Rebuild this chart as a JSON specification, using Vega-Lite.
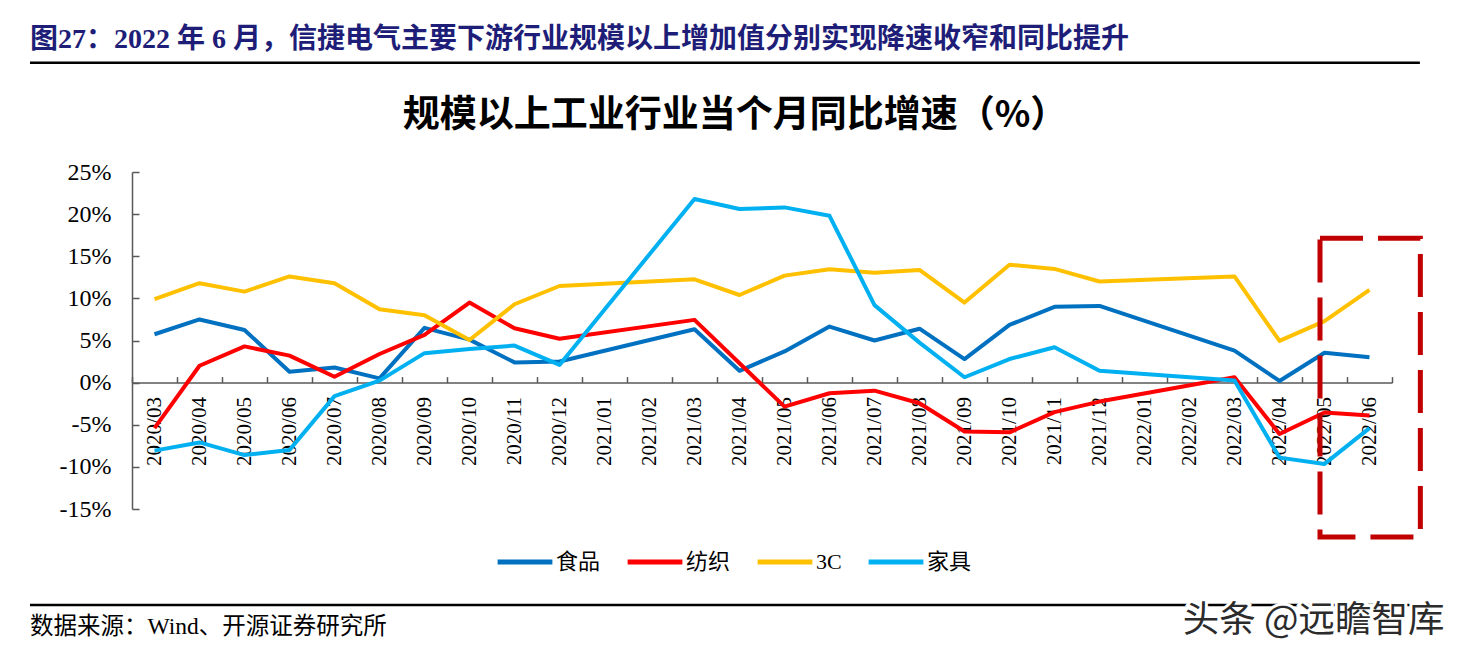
{
  "$schema": "https://vega.github.io/schema/vega-lite/v6.json",
  "width": 1260,
  "height": 337,
  "autosize": {"type": "none"},
  "padding": {"left": 132, "top": 172, "right": 80, "bottom": 148},
  "background": "white",
  "config": {"view": {"stroke": null}, "font": "Liberation Serif"},
  "data": {
    "values": [
      {"month": "2020/03", "series": "食品", "value": 5.74},
      {"month": "2020/04", "series": "食品", "value": 7.5},
      {"month": "2020/05", "series": "食品", "value": 6.25},
      {"month": "2020/06", "series": "食品", "value": 1.3},
      {"month": "2020/07", "series": "食品", "value": 1.8},
      {"month": "2020/08", "series": "食品", "value": 0.5},
      {"month": "2020/09", "series": "食品", "value": 6.5},
      {"month": "2020/10", "series": "食品", "value": 5.1},
      {"month": "2020/11", "series": "食品", "value": 2.4},
      {"month": "2020/12", "series": "食品", "value": 2.5},
      {"month": "2021/03", "series": "食品", "value": 6.33},
      {"month": "2021/04", "series": "食品", "value": 1.4},
      {"month": "2021/05", "series": "食品", "value": 3.7},
      {"month": "2021/06", "series": "食品", "value": 6.65},
      {"month": "2021/07", "series": "食品", "value": 5.0},
      {"month": "2021/08", "series": "食品", "value": 6.4},
      {"month": "2021/09", "series": "食品", "value": 2.8},
      {"month": "2021/10", "series": "食品", "value": 6.85},
      {"month": "2021/11", "series": "食品", "value": 9.0},
      {"month": "2021/12", "series": "食品", "value": 9.1},
      {"month": "2022/03", "series": "食品", "value": 3.8},
      {"month": "2022/04", "series": "食品", "value": 0.2},
      {"month": "2022/05", "series": "食品", "value": 3.55},
      {"month": "2022/06", "series": "食品", "value": 3.0},

      {"month": "2020/03", "series": "纺织", "value": -5.4},
      {"month": "2020/04", "series": "纺织", "value": 2.0},
      {"month": "2020/05", "series": "纺织", "value": 4.3},
      {"month": "2020/06", "series": "纺织", "value": 3.2},
      {"month": "2020/07", "series": "纺织", "value": 0.7},
      {"month": "2020/08", "series": "纺织", "value": 3.4},
      {"month": "2020/09", "series": "纺织", "value": 5.66},
      {"month": "2020/10", "series": "纺织", "value": 9.5},
      {"month": "2020/11", "series": "纺织", "value": 6.45},
      {"month": "2020/12", "series": "纺织", "value": 5.2},
      {"month": "2021/03", "series": "纺织", "value": 7.45},
      {"month": "2021/04", "series": "纺织", "value": 2.3},
      {"month": "2021/05", "series": "纺织", "value": -2.85},
      {"month": "2021/06", "series": "纺织", "value": -1.26},
      {"month": "2021/07", "series": "纺织", "value": -0.95},
      {"month": "2021/08", "series": "纺织", "value": -2.45},
      {"month": "2021/09", "series": "纺织", "value": -5.8},
      {"month": "2021/10", "series": "纺织", "value": -5.9},
      {"month": "2021/11", "series": "纺织", "value": -3.5},
      {"month": "2021/12", "series": "纺织", "value": -2.25},
      {"month": "2022/03", "series": "纺织", "value": 0.64},
      {"month": "2022/04", "series": "纺织", "value": -6.1},
      {"month": "2022/05", "series": "纺织", "value": -3.55},
      {"month": "2022/06", "series": "纺织", "value": -3.9},

      {"month": "2020/03", "series": "3C", "value": 9.9},
      {"month": "2020/04", "series": "3C", "value": 11.8},
      {"month": "2020/05", "series": "3C", "value": 10.8},
      {"month": "2020/06", "series": "3C", "value": 12.6},
      {"month": "2020/07", "series": "3C", "value": 11.8},
      {"month": "2020/08", "series": "3C", "value": 8.7},
      {"month": "2020/09", "series": "3C", "value": 8.0},
      {"month": "2020/10", "series": "3C", "value": 5.06},
      {"month": "2020/11", "series": "3C", "value": 9.3},
      {"month": "2020/12", "series": "3C", "value": 11.47},
      {"month": "2021/03", "series": "3C", "value": 12.26},
      {"month": "2021/04", "series": "3C", "value": 10.4},
      {"month": "2021/05", "series": "3C", "value": 12.7},
      {"month": "2021/06", "series": "3C", "value": 13.45},
      {"month": "2021/07", "series": "3C", "value": 13.05},
      {"month": "2021/08", "series": "3C", "value": 13.37},
      {"month": "2021/09", "series": "3C", "value": 9.5},
      {"month": "2021/10", "series": "3C", "value": 14.0},
      {"month": "2021/11", "series": "3C", "value": 13.5},
      {"month": "2021/12", "series": "3C", "value": 12.0},
      {"month": "2022/03", "series": "3C", "value": 12.6},
      {"month": "2022/04", "series": "3C", "value": 4.95},
      {"month": "2022/05", "series": "3C", "value": 7.3},
      {"month": "2022/06", "series": "3C", "value": 11.0},

      {"month": "2020/03", "series": "家具", "value": -8.07},
      {"month": "2020/04", "series": "家具", "value": -7.1},
      {"month": "2020/05", "series": "家具", "value": -8.6},
      {"month": "2020/06", "series": "家具", "value": -8.0},
      {"month": "2020/07", "series": "家具", "value": -1.6},
      {"month": "2020/08", "series": "家具", "value": 0.24},
      {"month": "2020/09", "series": "家具", "value": 3.5},
      {"month": "2020/10", "series": "家具", "value": 4.0},
      {"month": "2020/11", "series": "家具", "value": 4.4},
      {"month": "2020/12", "series": "家具", "value": 2.1},
      {"month": "2021/03", "series": "家具", "value": 21.8},
      {"month": "2021/04", "series": "家具", "value": 20.6},
      {"month": "2021/05", "series": "家具", "value": 20.8},
      {"month": "2021/06", "series": "家具", "value": 19.8},
      {"month": "2021/07", "series": "家具", "value": 9.2},
      {"month": "2021/08", "series": "家具", "value": 4.75},
      {"month": "2021/09", "series": "家具", "value": 0.64},
      {"month": "2021/10", "series": "家具", "value": 2.8},
      {"month": "2021/11", "series": "家具", "value": 4.2},
      {"month": "2021/12", "series": "家具", "value": 1.4},
      {"month": "2022/03", "series": "家具", "value": 0.24},
      {"month": "2022/04", "series": "家具", "value": -8.9},
      {"month": "2022/05", "series": "家具", "value": -9.65},
      {"month": "2022/06", "series": "家具", "value": -5.4}
    ]
  },
  "layer": [
    {
      "mark": {"type": "line", "strokeWidth": 4, "strokeJoin": "round"},
      "encoding": {
        "x": {
          "field": "month",
          "type": "ordinal",
          "scale": {
            "type": "band",
            "paddingInner": 0,
            "paddingOuter": 0,
            "domain": ["2020/03","2020/04","2020/05","2020/06","2020/07","2020/08","2020/09","2020/10","2020/11","2020/12","2021/01","2021/02","2021/03","2021/04","2021/05","2021/06","2021/07","2021/08","2021/09","2021/10","2021/11","2021/12","2022/01","2022/02","2022/03","2022/04","2022/05","2022/06"]
          },
          "axis": {
            "title": null,
            "offset": -126.4,
            "labelAngle": -90,
            "labelFont": "Liberation Serif",
            "labelFontSize": 21,
            "labelColor": "black",
            "labelPadding": 20,
            "tickSize": -6,
            "tickBand": "extent",
            "tickColor": "#595959",
            "tickWidth": 1.5,
            "domainColor": "#595959",
            "domainWidth": 1.5,
            "grid": false
          }
        },
        "y": {
          "field": "value",
          "type": "quantitative",
          "scale": {"domain": [-15, 25], "nice": false, "zero": false},
          "axis": {
            "title": null,
            "values": [-15, -10, -5, 0, 5, 10, 15, 20, 25],
            "labelExpr": "datum.value + '%'",
            "labelFont": "Liberation Serif",
            "labelFontSize": 24,
            "labelColor": "black",
            "labelPadding": 28,
            "tickSize": -7,
            "tickColor": "#595959",
            "tickWidth": 1.5,
            "domainColor": "#595959",
            "domainWidth": 1.5,
            "grid": false
          }
        },
        "color": {
          "field": "series",
          "type": "nominal",
          "scale": {
            "domain": ["食品", "纺织", "3C", "家具"],
            "range": ["#0070C0", "#FF0000", "#FFC000", "#00B0F0"]
          },
          "legend": {
            "title": null,
            "orient": "none",
            "legendX": 363,
            "legendY": 360,
            "direction": "horizontal",
            "symbolType": "stroke",
            "symbolSize": 3000,
            "symbolStrokeWidth": 5,
            "labelFont": "'Liberation Serif', 'Noto Sans CJK SC'",
            "labelFontSize": 22,
            "labelColor": "black",
            "labelOffset": 1,
            "columnPadding": 16
          }
        }
      }
    },
    {
      "data": {"values": [{}]},
      "mark": {"type": "rect", "fill": null, "fillOpacity": 0, "stroke": "#C00000", "strokeWidth": 5, "strokeDash": [43, 15]},
      "encoding": {
        "x": {"datum": 26.4, "type": "quantitative", "scale": {"domain": [0, 28], "nice": false, "zero": false}, "axis": null},
        "x2": {"datum": 28.63},
        "y": {"datum": 17.13, "type": "quantitative", "scale": {"domain": [-15, 25], "nice": false, "zero": false}},
        "y2": {"datum": -18.33}
      }
    },
    {
      "data": {"values": [{}]},
      "mark": {"type": "rule", "stroke": "black", "strokeWidth": 2.5},
      "encoding": {
        "x": {"datum": -2.267, "type": "quantitative", "scale": {"domain": [0, 28], "nice": false, "zero": false}, "axis": null},
        "x2": {"datum": 28.62},
        "y": {"datum": 37.98, "type": "quantitative", "scale": {"domain": [-15, 25], "nice": false, "zero": false}}
      }
    },
    {
      "data": {"values": [{}]},
      "mark": {"type": "rule", "stroke": "black", "strokeWidth": 2.5},
      "encoding": {
        "x": {"datum": -2.267, "type": "quantitative", "scale": {"domain": [0, 28], "nice": false, "zero": false}, "axis": null},
        "x2": {"datum": 28.62},
        "y": {"datum": -26.4, "type": "quantitative", "scale": {"domain": [-15, 25], "nice": false, "zero": false}}
      }
    },
    {
      "data": {"values": [{}]},
      "mark": {"type": "text", "align": "left", "baseline": "middle", "font": "'Liberation Serif', 'Noto Sans CJK SC'", "fontWeight": "bold", "fontSize": 28, "fill": "#1E1E78", "text": "图27：2022 年 6 月，信捷电气主要下游行业规模以上增加值分别实现降速收窄和同比提升"},
      "encoding": {
        "x": {"datum": -2.267, "type": "quantitative", "scale": {"domain": [0, 28], "nice": false, "zero": false}, "axis": null},
        "y": {"datum": 40.66, "type": "quantitative", "scale": {"domain": [-15, 25], "nice": false, "zero": false}}
      }
    },
    {
      "data": {"values": [{}]},
      "mark": {"type": "text", "align": "center", "baseline": "middle", "font": "'Noto Sans CJK SC'", "fontWeight": "bold", "fontSize": 37, "fill": "black", "text": "规模以上工业行业当个月同比增速（%）"},
      "encoding": {
        "x": {"datum": 13.4, "type": "quantitative", "scale": {"domain": [0, 28], "nice": false, "zero": false}, "axis": null},
        "y": {"datum": 31.64, "type": "quantitative", "scale": {"domain": [-15, 25], "nice": false, "zero": false}}
      }
    },
    {
      "data": {"values": [{}]},
      "mark": {"type": "text", "align": "left", "baseline": "middle", "font": "'Liberation Serif', 'Noto Sans CJK SC'", "fontSize": 23.5, "fill": "black", "text": "数据来源：Wind、开源证券研究所"},
      "encoding": {
        "x": {"datum": -2.267, "type": "quantitative", "scale": {"domain": [0, 28], "nice": false, "zero": false}, "axis": null},
        "y": {"datum": -29.01, "type": "quantitative", "scale": {"domain": [-15, 25], "nice": false, "zero": false}}
      }
    },
    {
      "data": {"values": [{}]},
      "mark": {"type": "text", "align": "left", "baseline": "middle", "font": "'Noto Sans CJK SC'", "fontSize": 36.5, "fill": "white", "stroke": "white", "strokeWidth": 6, "text": "头条 @远瞻智库"},
      "encoding": {
        "x": {"datum": 23.35, "type": "quantitative", "scale": {"domain": [0, 28], "nice": false, "zero": false}, "axis": null},
        "y": {"datum": -28.3, "type": "quantitative", "scale": {"domain": [-15, 25], "nice": false, "zero": false}}
      }
    },
    {
      "data": {"values": [{}]},
      "mark": {"type": "text", "align": "left", "baseline": "middle", "font": "'Noto Sans CJK SC'", "fontSize": 36.5, "fill": "#2b2b2b", "text": "头条 @远瞻智库"},
      "encoding": {
        "x": {"datum": 23.35, "type": "quantitative", "scale": {"domain": [0, 28], "nice": false, "zero": false}, "axis": null},
        "y": {"datum": -28.3, "type": "quantitative", "scale": {"domain": [-15, 25], "nice": false, "zero": false}}
      }
    }
  ],
  "resolve": {"scale": {"x": "independent"}}
}
